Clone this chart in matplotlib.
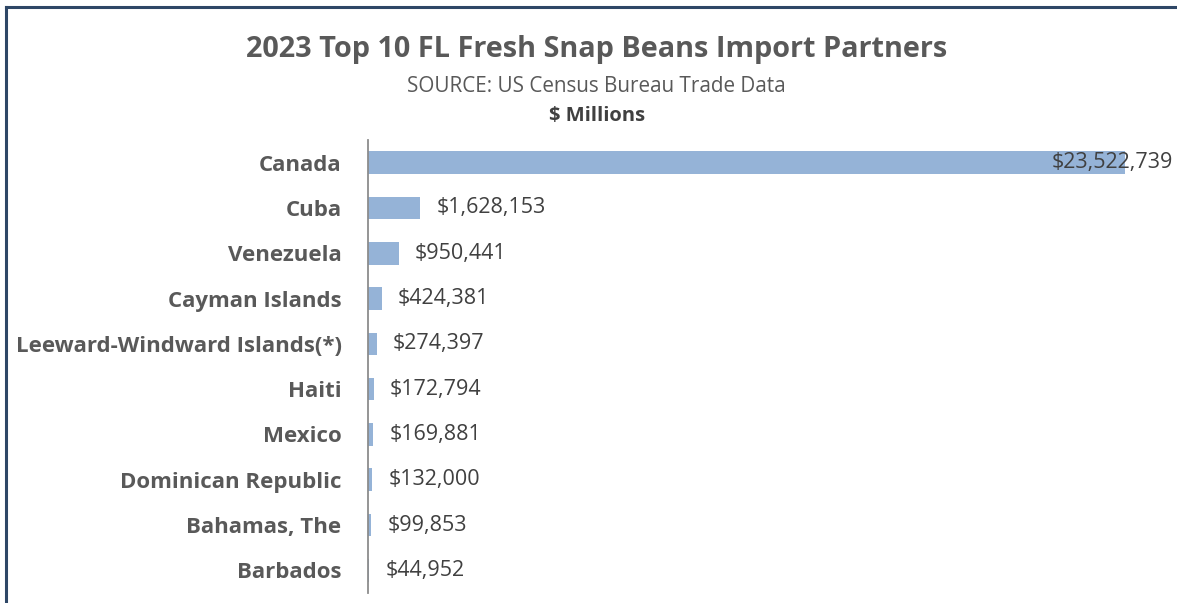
import matplotlib
matplotlib.use("Agg")
import matplotlib.pyplot as plt
from matplotlib.lines import Line2D

countries = ["Canada", "Cuba", "Venezuela", "Cayman Islands", "Leeward-Windward Islands(*)",
             "Haiti", "Mexico", "Dominican Republic", "Bahamas, The", "Barbados"]
values = [23522739, 1628153, 950441, 424381, 274397, 172794, 169881, 132000, 99853, 44952]

W, H = 1177, 603
plt.rcParams['font.family'] = ['Open Sans', 'DejaVu Sans']
fig = plt.figure(figsize=(W / 100, H / 100), dpi=100)

ax_left, ax_right = 368, 1177
ax_top, ax_bot = 140, 593
ax = fig.add_axes([ax_left / W, 1 - ax_bot / H, (ax_right - ax_left) / W, (ax_bot - ax_top) / H])

y = list(range(len(countries)))
ax.barh(y, values, height=0.5, color="#95b3d7")
ax.set_ylim(len(countries) - 0.5, -0.5)
ax.set_xlim(0, values[0] * (ax_right - ax_left) / 757)

for s in ["top", "right", "bottom"]:
    ax.spines[s].set_visible(False)
ax.spines["left"].set_color("#8c8c8c")
ax.spines["left"].set_linewidth(1.3)
ax.set_xticks([])
ax.set_yticks(y)
ax.set_yticklabels(countries, fontsize=16, fontweight="bold", color="#595959")
ax.tick_params(axis="y", length=0, pad=19)

for i, v in enumerate(values):
    lbl = f"${v:,.0f}"
    if i == 0:
        ax.annotate(lbl, (v, i), xytext=(-53, 0), textcoords="offset points",
                    ha="left", va="center", fontsize=15.5, color="#404040", annotation_clip=False)
    else:
        ax.annotate(lbl, (v, i), xytext=(11.5, 0), textcoords="offset points",
                    ha="left", va="center", fontsize=15.5, color="#404040")

fig.text(597 / W, 1 - 49 / H, "2023 Top 10 FL Fresh Snap Beans Import Partners",
         ha="center", va="center", fontsize=20.8, fontweight="bold", color="#595959")
fig.text(596 / W, 1 - 87 / H, "SOURCE: US Census Bureau Trade Data",
         ha="center", va="center", fontsize=14.9, color="#595959")
fig.text(597 / W, 1 - 116 / H, "$ Millions",
         ha="center", va="center", fontsize=14.5, fontweight="bold", color="#404040")

border = "#2e4766"
fig.add_artist(Line2D([6 / W, 6 / W], [0, 1 - 7 / H], color=border, lw=2.2, transform=fig.transFigure))
fig.add_artist(Line2D([6 / W, 1], [1 - 7 / H, 1 - 7 / H], color=border, lw=2.2, transform=fig.transFigure))

fig.savefig("out.png", dpi=100)
